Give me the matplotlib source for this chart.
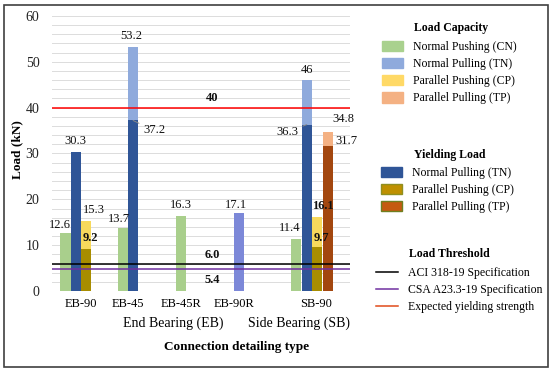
import matplotlib.pyplot as plt
import numpy as np
from matplotlib.patches import Patch, Rectangle
from matplotlib.lines import Line2D
from matplotlib.ticker import MultipleLocator

plt.rcParams['font.family'] = ['Liberation Serif', 'DejaVu Serif']

groups = ['EB-90', 'EB-45', 'EB-45R', 'EB-90R', 'SB-90']

# load capacity (kN), nan = no bar
cap_cn = [12.6, 13.7, 16.3, np.nan, 11.4]
cap_tn = [30.3, 53.2, np.nan, 17.1, 46.0]
cap_cp = [15.3, np.nan, np.nan, np.nan, 16.1]
cap_tp = [np.nan, np.nan, np.nan, np.nan, 34.8]

# yielding load (kN)
yld_tn = [30.3, 37.2, np.nan, np.nan, 36.3]
yld_cp = [9.2, np.nan, np.nan, np.nan, 9.7]
yld_tp = [np.nan, np.nan, np.nan, np.nan, 31.7]

# thresholds (kN)
aci = 6.0
csa = 5.4
csa_drawn = 4.8   # the purple line sits a bit under its label in the original
expected = 40

# layout: group centres and slot offsets of each series
bar_center = np.array([2.8, 7.3, 12.4, 17.5, 25.0])
tick_x = [2.8, 7.3, 12.4, 17.5, 25.4]
cn_off = np.array([-1.5, -0.5, 0, 0, -1.5])
tn_off = np.array([-0.5, 0.5, 0, 0.5, -0.5])
cp_off = np.array([0.5, 0, 0, 0, 0.5])
tp_off = np.array([1.5, 1.5, 1.5, 1.5, 1.5])

fig = plt.figure(figsize=(5.5, 3.73), dpi=100)
ax = fig.add_axes([52/550, 1-291/373, 298/550, 275/373])

w = 0.97
x_cn = bar_center + cn_off
x_tn = bar_center + tn_off
x_cp = bar_center + cp_off
x_tp = bar_center + tp_off

tn_colors = ['#8faadc', '#8faadc', '#8faadc', '#7c88d8', '#8faadc']
ax.bar(x_cn, cap_cn, w, color='#a9cf8c', zorder=2)
ax.bar(x_tn, cap_tn, w, color=tn_colors, zorder=2)
ax.bar(x_cp, cap_cp, w, color='#f7d95c', zorder=2)
ax.bar(x_tp, cap_tp, w, color='#f4b183', zorder=2)
ax.bar(x_tn, yld_tn, w, color='#2f5597', zorder=3)
ax.bar(x_cp, yld_cp, w, color='#a88d00', zorder=3)
ax.bar(x_tp, yld_tp, w, color='#a3470f', zorder=3)

ax.axhline(aci, color='black', lw=1.1, zorder=4)
ax.axhline(csa_drawn, color='#7030a0', lw=1.1, zorder=4)
ax.axhline(expected, color='#ff0000', lw=1.1, zorder=4)

def label(x, y, dx, dy, bold=False, leader=False, txt=None):
    if np.isnan(y):
        return
    ax.annotate(txt if txt else f'{y:g}', (x, y), xytext=(dx, dy),
                textcoords='offset pixels', ha='center', va='center',
                fontsize=9, fontweight='bold' if bold else 'normal', color='#111111',
                arrowprops=dict(arrowstyle='-', color='#8a8a8a', lw=0.7,
                                shrinkA=1, shrinkB=0) if leader else None,
                zorder=5)

# value labels
label(x_cn[0], cap_cn[0], -6, 8)
label(x_tn[0], cap_tn[0], -1, 11)
label(x_cp[0], cap_cp[0], 8, 11)
label(x_cp[0], yld_cp[0], 4, 11, bold=True)
label(x_cn[1], cap_cn[1], -4, 9)
label(x_tn[1], cap_tn[1], -2, 11)
label(x_tn[1], yld_tn[1], 21, -10, leader=True)
label(x_cn[2], cap_cn[2], 0, 11)
label(x_tn[3], cap_tn[3], -3, 8)
label(x_cn[4], cap_cn[4], -7, 11)
label(x_tn[4], cap_tn[4], 0, 10)
label(x_tn[4], yld_tn[4], -19, -7, leader=True)
label(x_cp[4], cap_cp[4], 6, 11, bold=True)
label(x_cp[4], yld_cp[4], 4, 9, bold=True)
label(x_tp[4], cap_tp[4], 16, 13)
label(x_tp[4], yld_tp[4], 19, 5)
label(15.4, expected, 0, 10, bold=True, txt=f'{expected}')
label(15.4, aci, 0, 8, bold=True, txt=f'{aci:.1f}')
label(15.4, csa_drawn, 0, -11, bold=True, txt=f'{csa:.1f}')

ax.set_xlim(0, 298/10.4)
ax.set_ylim(0, 60)
ax.yaxis.set_major_locator(MultipleLocator(10))
ax.yaxis.set_minor_locator(MultipleLocator(2))
ax.grid(axis='y', which='both', color='#dcdcdc', lw=0.7, zorder=0)
ax.set_axisbelow(True)
ax.set_xticks(tick_x, groups)
ax.tick_params(axis='x', length=0, pad=5, labelsize=9)
ax.tick_params(axis='y', which='both', length=0, pad=9, labelsize=10, labelcolor='#222222')
for s in ax.spines.values():
    s.set_visible(False)

fig.text(17/550, 1-150/373, 'Load (kN)', rotation=90, ha='center', va='center',
         fontsize=9.5, fontweight='bold')
fig.text(237/550, 1-347/373, 'Connection detailing type', ha='center', va='center',
         fontsize=9.5, fontweight='bold')
fig.text(173/550, 1-323/373, 'End Bearing (EB)', ha='center', va='center', fontsize=10)
fig.text(299/550, 1-323/373, 'Side Bearing (SB)', ha='center', va='center', fontsize=10)

# legends
leg_kw = dict(frameon=False, borderpad=0, borderaxespad=0, fontsize=8.5,
              labelspacing=0.42, handletextpad=0.85, loc='upper left')

cap_handles = [Patch(color='#a9d18e'), Patch(color='#8faadc'),
               Patch(color='#ffd966'), Patch(color='#f4b183')]
cap_labels = ['Normal Pushing (CN)', 'Normal Pulling (TN)',
              'Parallel Pushing (CP)', 'Parallel Pulling (TP)']
fig.text(414/550, 1-28/373, 'Load Capacity', fontweight='bold', fontsize=8.5, va='center')
fig.legend(cap_handles, cap_labels, bbox_to_anchor=(382/550, 1-41/373),
           handlelength=1.8, handleheight=0.95, **leg_kw)

yld_handles = [Patch(facecolor='#2f5597', edgecolor='#2f5597'),
               Patch(facecolor='#bf9000', edgecolor='#8f8f20'),
               Patch(facecolor='#c55a11', edgecolor='#6f7f20')]
yld_labels = ['Normal Pulling (TN)', 'Parallel Pushing (CP)', 'Parallel Pulling (TP)']
fig.text(414/550, 1-155/373, 'Yielding Load', fontweight='bold', fontsize=8.5, va='center')
fig.legend(yld_handles, yld_labels, bbox_to_anchor=(381/550, 1-167/373),
           handlelength=1.8, handleheight=0.95, **leg_kw)

thr_handles = [Line2D([], [], color='black', lw=1.1),
               Line2D([], [], color='#7030a0', lw=1.1),
               Line2D([], [], color='#e04a1a', lw=1.1)]
thr_labels = ['ACI 318-19 Specification', 'CSA A23.3-19 Specification',
              'Expected yielding strength']
fig.text(409/550, 1-254/373, 'Load Threshold', fontweight='bold', fontsize=8.5, va='center')
fig.legend(thr_handles, thr_labels, bbox_to_anchor=(376/550, 1-267/373),
           handlelength=1.86, **leg_kw)

# outer frame
fig.add_artist(Rectangle((4/550, 6/373), 544/550, 362/373, transform=fig.transFigure,
                         fill=False, edgecolor='#404040', lw=1.2))

fig.savefig('out.png', dpi=100)
